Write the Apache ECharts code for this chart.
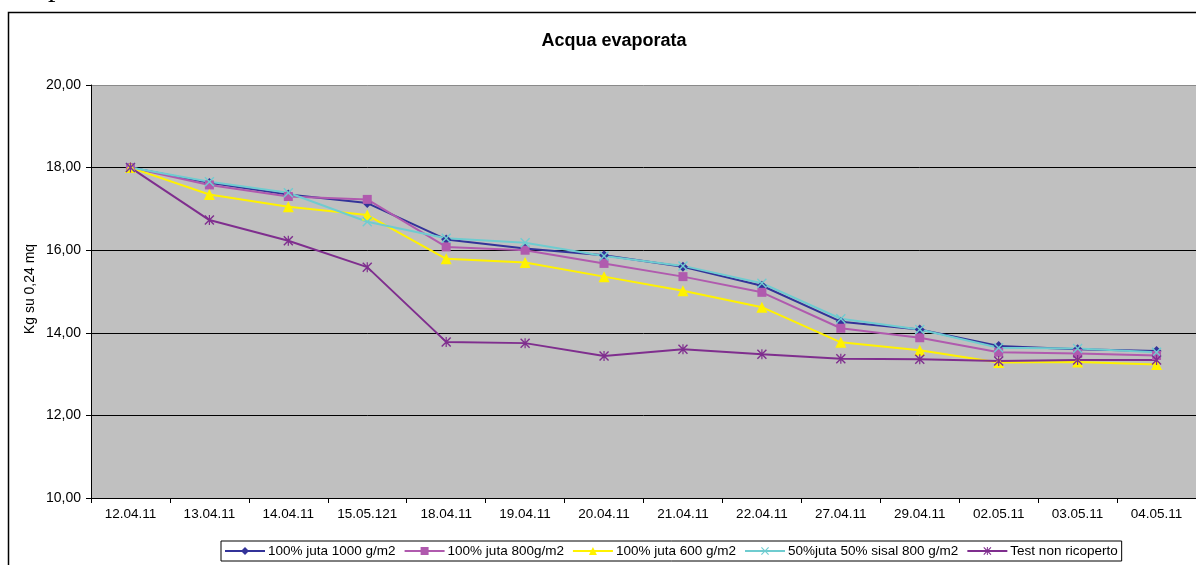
<!DOCTYPE html>
<html>
<head>
<meta charset="utf-8">
<script src="https://cdn.jsdelivr.net/npm/echarts@6/dist/echarts.min.js"></script>
<style>html,body{margin:0;padding:0;background:#fff;}#c{width:1196px;height:565px;}</style>
</head>
<body>
<div id="c"></div>
<script>
const categories = ['12.04.11','13.04.11','14.04.11','15.05.121','18.04.11','19.04.11','20.04.11','21.04.11','22.04.11','27.04.11','29.04.11','02.05.11','03.05.11','04.05.11'];
const juta1000 = [18.00,17.63,17.35,17.14,16.26,16.04,15.88,15.60,15.14,14.27,14.08,13.68,13.60,13.56];
const juta800  = [18.00,17.58,17.30,17.23,16.08,16.00,15.68,15.36,14.98,14.11,13.88,13.53,13.50,13.45];
const juta600  = [18.00,17.35,17.05,16.85,15.79,15.70,15.36,15.02,14.62,13.77,13.58,13.28,13.29,13.23];
const sisal800 = [18.00,17.66,17.39,16.69,16.29,16.18,15.86,15.62,15.20,14.34,14.08,13.64,13.62,13.53];
const testNon  = [18.00,16.73,16.23,15.59,13.78,13.75,13.44,13.60,13.48,13.37,13.36,13.32,13.34,13.34];
const seriesNames = ['100% juta 1000 g/m2','100% juta 800g/m2','100% juta 600 g/m2','50%juta 50% sisal 800 g/m2','Test non ricoperto'];
const yTicks = {min:10, max:20, interval:2};

const X_PATH = 'path://M0,1L1,0L5,4L9,0L10,1L6,5L10,9L9,10L5,6L1,10L0,9L4,5Z';
const STAR_PATH = 'path://M0,1L1,0L5,4L9,0L10,1L6,5L10,9L9,10L5,6L1,10L0,9L4,5ZM4.4,0L5.6,0L5.6,10L4.4,10Z';

const colors = ['#333399','#B05AAE','#FFF200','#6FCCD0','#7F2E8E'];
const symbols = ['diamond','rect','triangle',X_PATH,STAR_PATH];
const sizes = [10,9,11,10,10];
const datasets = [juta1000, juta800, juta600, sisal800, testNon];

const FONT = 'Liberation Sans, Arial, sans-serif';
const chart = echarts.init(document.getElementById('c'), null, {renderer:'canvas'});
const fmt = v => v.toFixed(2).replace('.', ',');

chart.setOption({
  animation:false,
  backgroundColor:'#fff',
  textStyle:{fontFamily:FONT},
  title:{
    text:'Acqua evaporata', left:609, top:27, textAlign:'center',
    textStyle:{fontSize:18, fontWeight:'bold', color:'#000', fontFamily:FONT}
  },
  grid:{left:91, top:85, width:1106, height:413, show:true, backgroundColor:'#C0C0C0', borderWidth:0, containLabel:false},
  legend:{
    data:seriesNames, left:221, top:541,
    itemWidth:40, itemHeight:10, itemGap:8,
    padding:[3,4,3,3],
    borderColor:'#000', borderWidth:1, backgroundColor:'#fff',
    textStyle:{fontSize:13.5, color:'#000', fontFamily:FONT, padding:[0,0,0,-2]}
  },
  xAxis:{
    type:'category', data:categories, boundaryGap:true,
    axisLine:{lineStyle:{color:'#000', width:1}},
    axisTick:{show:true, alignWithLabel:false, length:5, lineStyle:{color:'#000'}},
    axisLabel:{color:'#000', fontSize:13.5, margin:9, interval:0}
  },
  yAxis:{
    type:'value', min:yTicks.min, max:yTicks.max, interval:yTicks.interval,
    axisLine:{show:true, lineStyle:{color:'#000', width:1}},
    axisTick:{show:true, length:5, lineStyle:{color:'#000'}},
    axisLabel:{color:'#000', fontSize:14, margin:10, formatter:fmt},
    splitLine:{show:true, lineStyle:{color:['#000','#000','#000','#000','#000','#8a8a8a'], width:1}}
  },
  graphic:[
    {type:'rect', shape:{x:8.5, y:12.5, width:1300, height:700}, style:{fill:'none', stroke:'#000', lineWidth:1.5}, silent:true, z:-1},
    {type:'text', x:30, y:289, rotation:Math.PI/2, style:{text:'Kg su 0,24 mq', fontSize:14, fill:'#000', textAlign:'center', textVerticalAlign:'middle', fontFamily:FONT}},
    {type:'text', left:48, top:-27, style:{text:'p', fontSize:30, fill:'#000', fontFamily:'Liberation Serif, Times New Roman, serif'}}
  ],
  series: datasets.map((d,i)=>({
    name:seriesNames[i], type:'line', data:d,
    symbol:symbols[i], symbolSize:sizes[i], showSymbol:true,
    lineStyle:{color:colors[i], width:2},
    itemStyle:{color:colors[i], borderWidth:0}
  }))
});
</script>
</body>
</html>
